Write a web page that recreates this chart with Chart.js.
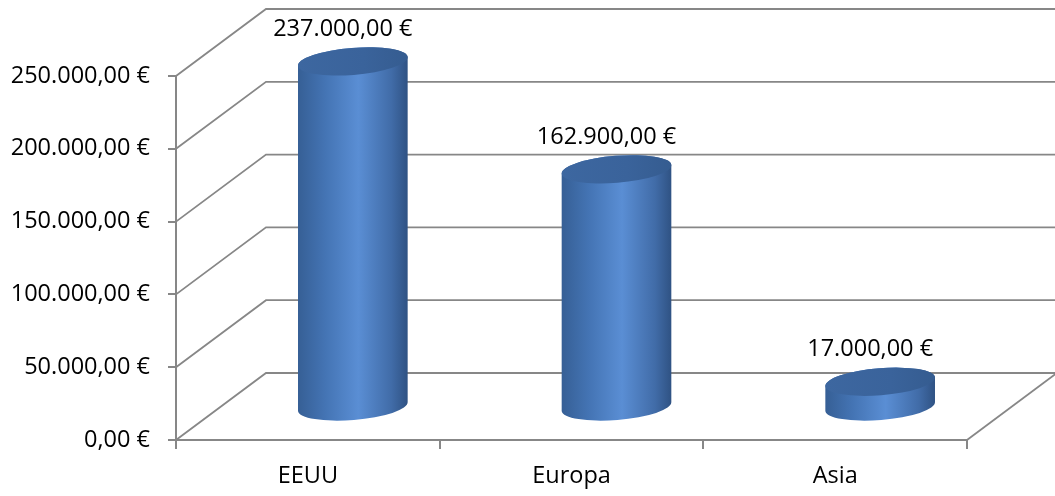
<!DOCTYPE html>
<html>
<head>
<meta charset="utf-8">
<script src="https://cdn.jsdelivr.net/npm/chart.js@4.4.1/dist/chart.umd.min.js"></script>
<style>
  html, body { margin: 0; background: #fff; }
  #wrap { width: 1055px; height: 496px; position: relative; }
</style>
</head>
<body>
<div id="wrap"><canvas id="chart"></canvas></div>
<script>
const categories = ["EEUU", "Europa", "Asia"];
const sales = [237000, 162900, 17000];
const yTicks = [0, 50000, 100000, 150000, 200000, 250000];

const FONT = "'Open Sans', sans-serif";
const LINE = "#878787";
const DX = 90, DY = -67; // depth of the 3d box

function euro(v) {
  const parts = v.toFixed(2).split(".");
  const int = parts[0].replace(/\B(?=(\d{3})+(?!\d))/g, ".");
  return int + "," + parts[1] + " €";
}

const walls = {
  id: "walls",
  beforeDatasetsDraw(chart) {
    const { ctx, chartArea: a, scales: { y } } = chart;
    ctx.save();
    ctx.strokeStyle = LINE;
    ctx.lineWidth = 1.8;
    yTicks.forEach((t) => {
      const py = y.getPixelForValue(t);
      ctx.beginPath();
      ctx.moveTo(a.left, py);
      ctx.lineTo(a.left + DX, py + DY);
      ctx.lineTo(a.right + DX, py + DY);
      ctx.stroke();
    });
    // right edge of the floor
    ctx.beginPath();
    ctx.moveTo(a.right, a.bottom);
    ctx.lineTo(a.right + DX, a.bottom + DY);
    ctx.stroke();
    ctx.restore();
  },
};

const cylinders = {
  id: "cylinders",
  afterDatasetsDraw(chart) {
    const { ctx, scales: { x, y } } = chart;
    const rx = 55, ry = 13.5, rot = -0.08;
    ctx.save();
    sales.forEach((v, i) => {
      const cx = x.getPixelForValue(i) + DX / 2;
      const top = y.getPixelForValue(v) + DY / 2;
      const bot = y.getPixelForValue(0) + DY / 2;

      const g = ctx.createLinearGradient(cx - rx, 0, cx + rx, 0);
      g.addColorStop(0, "#365f95");
      g.addColorStop(0.25, "#4474b4");
      g.addColorStop(0.55, "#5a8ed4");
      g.addColorStop(0.85, "#416ca8");
      g.addColorStop(1, "#2f5283");

      ctx.beginPath();
      ctx.ellipse(cx, bot, rx, ry, rot, 0, Math.PI);
      ctx.ellipse(cx, top, rx, ry, rot, Math.PI, 2 * Math.PI);
      ctx.closePath();
      ctx.fillStyle = g;
      ctx.fill();

      const tg = ctx.createLinearGradient(cx - rx, top, cx + rx, top);
      tg.addColorStop(0, "#3d67a0");
      tg.addColorStop(0.6, "#3a639b");
      tg.addColorStop(1, "#355c90");
      ctx.beginPath();
      ctx.ellipse(cx, top, rx, ry, rot, 0, 2 * Math.PI);
      ctx.fillStyle = tg;
      ctx.fill();

      // value label
      ctx.fillStyle = "#000";
      ctx.font = "23.5px " + FONT;
      ctx.textAlign = "center";
      ctx.textBaseline = "middle";
      ctx.fillText(euro(v), cx - 10, top - ry - 19);
    });
    ctx.restore();
  },
};

new Chart(document.getElementById("chart"), {
  type: "bar",
  data: {
    labels: categories,
    datasets: [
      {
        data: sales,
        backgroundColor: "rgba(0,0,0,0)",
        borderWidth: 0,
      },
    ],
  },
  options: {
    responsive: true,
    maintainAspectRatio: false,
    animation: false,
    layout: { padding: { top: 76, right: 88, left: 0, bottom: 0 } },
    plugins: {
      legend: { display: false },
      tooltip: { enabled: false },
    },
    scales: {
      x: {
        afterFit: (s) => { s.height = 56; },
        border: { color: LINE, width: 2 },
        grid: {
          offset: true,
          drawOnChartArea: false,
          tickLength: 9,
          color: LINE,
          lineWidth: 2,
        },
        ticks: {
          color: "#000",
          padding: 13,
          font: { family: FONT, size: 23.5 },
        },
      },
      y: {
        min: 0,
        max: 250000,
        afterFit: (s) => { s.width = 176; },
        afterBuildTicks: (s) => { s.ticks = yTicks.map((v) => ({ value: v })); },
        border: { color: LINE, width: 2 },
        grid: {
          drawOnChartArea: false,
          tickLength: 8,
          color: LINE,
          lineWidth: 2,
        },
        ticks: {
          color: "#000",
          padding: 18,
          font: { family: FONT, size: 23.5 },
          callback: (v) => euro(v),
        },
      },
    },
  },
  plugins: [walls, cylinders],
});
</script>
</body>
</html>
